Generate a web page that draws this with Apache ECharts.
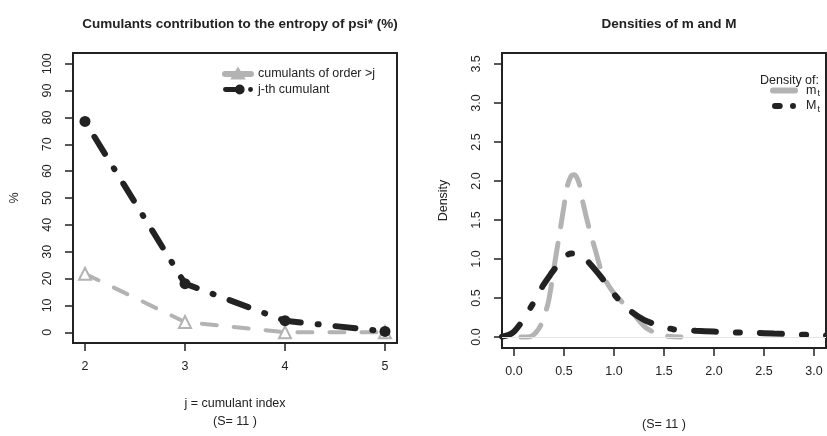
<!DOCTYPE html>
<html><head><meta charset="utf-8">
<script src="https://cdn.jsdelivr.net/npm/echarts@6/dist/echarts.min.js"></script>
<style>html,body{margin:0;padding:0;background:#fff;overflow:hidden;width:827px;height:436px}#c{position:absolute;left:0;top:0;width:827px;height:436px}</style>
</head><body><div id="c"></div>
<script>
// ---- Left panel data ----
const cumIndex = [2, 3, 4, 5];
const higherOrder = [21.8, 3.8, 0.0, 0.0];   // cumulants of order > j
const jthCumulant = [78.5, 18.1, 4.3, 0.3];  // j-th cumulant
const leftYTicks = [0, 10, 20, 30, 40, 50, 60, 70, 80, 90, 100];
const leftXTicks = [2, 3, 4, 5];

// ---- Right panel data ----
const mX = [0.07, 0.17, 0.22, 0.27, 0.34, 0.38, 0.42, 0.46, 0.50, 0.53, 0.57, 0.60, 0.63, 0.66, 0.69, 0.75, 0.81, 0.89, 1.00, 1.16, 1.32, 1.49, 1.67];
const mY = [0.00, 0.01, 0.06, 0.16, 0.43, 0.72, 1.05, 1.36, 1.68, 1.92, 2.06, 2.08, 2.04, 1.93, 1.72, 1.40, 1.13, 0.79, 0.56, 0.35, 0.12, 0.02, 0.00];
const MX = [-0.12, -0.05, 0.00, 0.08, 0.19, 0.29, 0.37, 0.44, 0.50, 0.57, 0.64, 0.70, 0.76, 0.84, 0.92, 1.02, 1.10, 1.19, 1.30, 1.41, 1.50, 1.59, 1.70, 1.82, 2.00, 2.20, 2.40, 2.60, 2.80, 3.00, 3.12];
const MY = [0.005, 0.03, 0.07, 0.20, 0.43, 0.66, 0.81, 0.93, 1.02, 1.07, 1.07, 1.02, 0.94, 0.82, 0.69, 0.52, 0.41, 0.31, 0.22, 0.165, 0.13, 0.10, 0.09, 0.08, 0.07, 0.06, 0.055, 0.045, 0.035, 0.025, 0.02];
const rightXTicks = [0, 0.5, 1.0, 1.5, 2.0, 2.5, 3.0];
const rightYTicks = [0, 0.5, 1.0, 1.5, 2.0, 2.5, 3.0, 3.5];

const FONT = 'Liberation Sans, Arial, sans-serif';
const INK = '#222';
const GREY = '#b3b3b3';
const lbl = {fontFamily: FONT, fontSize: 12.5, color: INK};

function pairs(xs, ys) { return xs.map((x, i) => [x, ys[i]]); }

const ICON_GREY = 'path://M2,4 H28 A2,2 0 0 1 28,8 H2 A2,2 0 0 1 2,4 Z M15,0.5 L21,10.5 L9,10.5 Z';
const ICON_BLACK = 'path://M2.5,3.5 H15 V8.5 H2.5 A2.5,2.5 0 0 1 2.5,3.5 Z M17,1 A5,5 0 1 1 17,11 A5,5 0 1 1 17,1 Z M28,3.5 A2.5,2.5 0 1 1 28,8.5 A2.5,2.5 0 1 1 28,3.5 Z';
const ICON_M = 'path://M3,0 H25 A3,3 0 0 1 25,6 H3 A3,3 0 0 1 3,0 Z';
const ICON_MM = 'path://M3.5,0 H9 A3.5,3.5 0 0 1 9,7 H3.5 A3.5,3.5 0 0 1 3.5,0 Z M24.5,0 A3.5,3.5 0 1 1 24.5,7 A3.5,3.5 0 1 1 24.5,0 Z';

const chart = echarts.init(document.getElementById('c'), null, {renderer: 'canvas', width: 827, height: 436});
const axisCommon = {
  type: 'value',
  axisLine: {show: false, onZero: false},
  splitLine: {show: false},
  axisTick: {show: true, inside: false, length: 8, lineStyle: {color: INK, width: 1.5}},
};
chart.setOption({
  animation: false,
  backgroundColor: '#fff',
  textStyle: {fontFamily: FONT},
  title: [
    {text: 'Cumulants contribution to the entropy of psi* (%)', left: 235, top: 12, textAlign: 'center',
     textStyle: {fontFamily: FONT, fontSize: 13.5, fontWeight: 'bold', color: INK}},
    {text: 'Densities of m and M', left: 664, top: 12, textAlign: 'center',
     textStyle: {fontFamily: FONT, fontSize: 13.5, fontWeight: 'bold', color: INK}},
    {text: 'Density of:', right: 3, top: 69, textStyle: {fontFamily: FONT, fontSize: 12.5, fontWeight: 'normal', color: INK}}
  ],
  grid: [
    {left: 73, right: 430, top: 53, bottom: 84, show: true, borderColor: INK, borderWidth: 2, containLabel: false},
    {left: 502, right: 1, top: 53, bottom: 84, show: true, borderColor: INK, borderWidth: 2, containLabel: false}
  ],
  legend: [
    {left: 217, top: 62, orient: 'vertical', itemWidth: 30, itemHeight: 12, itemGap: 3,
     data: [{name: 'cumulants of order >j', icon: ICON_GREY}, {name: 'j-th cumulant', icon: ICON_BLACK}], textStyle: lbl},
    {left: 765, top: 79, orient: 'vertical', itemWidth: 28, itemHeight: 6, itemGap: 1, itemStyle: {borderWidth: 0},
     data: [{name: 'm_t', icon: ICON_M}, {name: 'M_t', icon: ICON_MM}],
     formatter: n => n === 'm_t' ? '{a|m}{b|t}' : '{a|M}{b|t}',
     textStyle: {fontFamily: FONT, fontSize: 12.5, color: INK, padding: [0, 0, 0, 3],
       rich: {a: {fontFamily: FONT, fontSize: 12.5, color: INK}, b: {fontFamily: FONT, fontSize: 9, color: INK, padding: [7, 0, 0, 1]}}}}
  ],
  xAxis: [
    Object.assign({}, axisCommon, {gridIndex: 0, min: 1.88, max: 5.12,
      axisTick: Object.assign({}, axisCommon.axisTick, {customValues: leftXTicks}),
      axisLabel: Object.assign({}, lbl, {customValues: leftXTicks, margin: 17}),
      name: 'j = cumulant index\n(S= 11 )', nameLocation: 'middle', nameGap: 52,
      nameTextStyle: Object.assign({}, lbl, {lineHeight: 18})}),
    Object.assign({}, axisCommon, {gridIndex: 1, min: -0.12, max: 3.12,
      axisTick: Object.assign({}, axisCommon.axisTick, {customValues: rightXTicks}),
      axisLabel: Object.assign({}, lbl, {customValues: rightXTicks, margin: 17, formatter: v => v.toFixed(1)}),
      name: '(S= 11 )', nameLocation: 'middle', nameGap: 70,
      nameTextStyle: Object.assign({}, lbl)})
  ],
  yAxis: [
    Object.assign({}, axisCommon, {gridIndex: 0, min: -4, max: 104,
      axisTick: Object.assign({}, axisCommon.axisTick, {customValues: leftYTicks}),
      axisLabel: Object.assign({}, lbl, {customValues: leftYTicks, rotate: 90, margin: 19}),
      name: '%', nameLocation: 'middle', nameGap: 52, nameRotate: 90,
      nameTextStyle: Object.assign({}, lbl)}),
    Object.assign({}, axisCommon, {gridIndex: 1, min: -0.14, max: 3.64,
      axisTick: Object.assign({}, axisCommon.axisTick, {customValues: rightYTicks}),
      axisLabel: Object.assign({}, lbl, {customValues: rightYTicks, rotate: 90, margin: 19, formatter: v => v.toFixed(1)}),
      name: 'Density', nameLocation: 'middle', nameGap: 52, nameRotate: 90,
      nameTextStyle: Object.assign({}, lbl)})
  ],
  series: [
    {name: 'cumulants of order >j', type: 'line', xAxisIndex: 0, yAxisIndex: 0,
     data: pairs(cumIndex, higherOrder), symbol: 'emptyTriangle', symbolSize: 12,
     itemStyle: {color: GREY, borderColor: GREY, borderWidth: 2.5},
     lineStyle: {color: GREY, width: 4, type: [15, 17], cap: 'round'}, z: 2},
    {name: 'j-th cumulant', type: 'line', xAxisIndex: 0, yAxisIndex: 0,
     data: pairs(cumIndex, jthCumulant), symbol: 'circle', symbolSize: 11,
     itemStyle: {color: INK, borderColor: INK, borderWidth: 0},
     lineStyle: {color: INK, width: 6, type: [1, 17, 20, 17], cap: 'round'}, z: 3},
    {name: 'm_t', type: 'line', xAxisIndex: 1, yAxisIndex: 1, smooth: 0.3, showSymbol: false, symbol: 'none',
     data: pairs(mX, mY), lineStyle: {color: GREY, width: 5, type: [25, 17], cap: 'round'}, itemStyle: {color: GREY},
     markLine: {silent: true, symbol: 'none', label: {show: false}, lineStyle: {color: '#e6e6e6', width: 1, type: 'solid'}, data: [{yAxis: 0}]},
     z: 2},
    {name: 'M_t', type: 'line', xAxisIndex: 1, yAxisIndex: 1, smooth: 0.3, showSymbol: false, symbol: 'none',
     data: pairs(MX, MY), lineStyle: {color: INK, width: 6, type: [22, 20, 4, 20], cap: 'round'}, itemStyle: {color: INK}, z: 3}
  ]
});
</script></body></html>
